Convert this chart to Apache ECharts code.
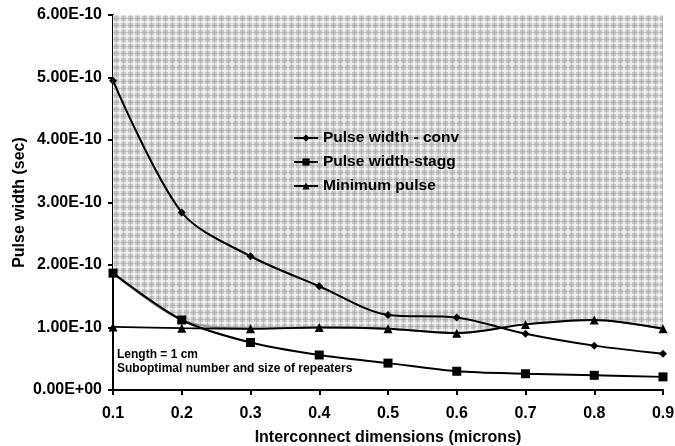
<!DOCTYPE html>
<html>
<head>
<meta charset="utf-8">
<script src="https://cdn.jsdelivr.net/npm/echarts@6/dist/echarts.min.js"></script>
<style>
html, body { margin: 0; padding: 0; background: #fff; }
#main { width: 675px; height: 446px; }
</style>
</head>
<body>
<div id="main"></div>
<script>
// 数据
var widths = [0.1, 0.2, 0.3, 0.4, 0.5, 0.6, 0.7, 0.8, 0.9];
var pulseConv = [4.95e-10, 2.84e-10, 2.14e-10, 1.66e-10, 1.20e-10, 1.16e-10, 0.90e-10, 0.71e-10, 0.58e-10];
var pulseStagg = [1.87e-10, 1.12e-10, 0.76e-10, 0.56e-10, 0.43e-10, 0.30e-10, 0.26e-10, 0.235e-10, 0.21e-10];
var minPulse = [1.01e-10, 0.99e-10, 0.98e-10, 1.00e-10, 0.98e-10, 0.91e-10, 1.05e-10, 1.12e-10, 0.98e-10];
var seriesNames = ['Pulse width - conv', 'Pulse width-stagg', 'Minimum pulse'];
var noteLines = ['Length = 1 cm', 'Suboptimal number and size of repeaters'];

// 阴影区下边界 = stagg 和 minimum 的较大值
var boundary = widths.map(function (x, i) {
    return [x, Math.max(pulseStagg[i], minPulse[i])];
});

function pairs(ys) {
    return widths.map(function (x, i) { return [x, ys[i]]; });
}

// 格子纹理
function makePattern() {
    var c = document.createElement('canvas');
    c.width = 7;
    c.height = 7;
    var ctx = c.getContext('2d');
    ctx.fillStyle = '#cacaca';
    ctx.fillRect(0, 0, 7, 7);
    ctx.fillStyle = 'rgba(255,255,255,0.6)';
    ctx.fillRect(0, 0, 2, 7);
    ctx.fillRect(0, 0, 7, 2);
    ctx.fillStyle = 'rgba(140,140,140,0.35)';
    ctx.fillRect(4, 0, 1, 7);
    ctx.fillRect(0, 4, 7, 1);
    return c;
}

function sci(v) {
    var s = v.toExponential(2).toUpperCase();
    return s.replace(/E([+-])(\d)$/, 'E$10$2');
}

var font = 'Liberation Sans';
var chart = echarts.init(document.getElementById('main'));

var lineStyle = { color: '#000', width: 2 };

option = {
    backgroundColor: '#fff',
    animation: false,
    grid: { left: 113, right: 12, top: 15, bottom: 56, outerBoundsMode: 'none' },
    legend: {
        data: seriesNames,
        orient: 'vertical',
        left: 288,
        top: 125,
        itemGap: 8,
        itemWidth: 24,
        itemHeight: 9,
        textStyle: { fontFamily: font, fontWeight: 'bold', fontSize: 15.5, color: '#000' }
    },
    xAxis: {
        type: 'value',
        min: 0.1,
        max: 0.9,
        interval: 0.1,
        name: 'Interconnect dimensions (microns)',
        nameLocation: 'middle',
        nameGap: 40,
        nameMoveOverlap: false,
        nameTextStyle: { fontFamily: font, fontWeight: 'bold', fontSize: 16, color: '#000' },
        axisLine: { lineStyle: { color: '#000', width: 2 } },
        axisTick: { length: 5, lineStyle: { color: '#000', width: 2 } },
        splitLine: { show: false },
        axisLabel: {
            fontFamily: font, fontWeight: 'bold', fontSize: 16, color: '#000', margin: 16,
            formatter: function (v) { return v.toFixed(1); }
        }
    },
    yAxis: {
        type: 'value',
        min: 0,
        max: 6e-10,
        interval: 1e-10,
        name: 'Pulse width (sec)',
        nameLocation: 'middle',
        nameGap: 85,
        nameMoveOverlap: false,
        nameTextStyle: { fontFamily: font, fontWeight: 'bold', fontSize: 16, color: '#000' },
        axisLine: { show: true, lineStyle: { color: '#000', width: 2 } },
        axisTick: { show: true, length: 5, lineStyle: { color: '#000', width: 2 } },
        splitLine: { show: false },
        axisLabel: {
            fontFamily: font, fontWeight: 'bold', fontSize: 16, color: '#000', margin: 11,
            formatter: sci
        }
    },
    series: [
        {
            name: 'shade',
            type: 'line',
            data: boundary,
            smooth: 0.3,
            symbol: 'none',
            z: 1,
            lineStyle: { color: '#999', width: 2 },
            areaStyle: {
                origin: 'end',
                opacity: 1,
                color: { image: makePattern(), repetition: 'repeat' }
            }
        },
        {
            name: seriesNames[0],
            type: 'line',
            data: pairs(pulseConv),
            smooth: 0.3,
            symbol: 'diamond',
            symbolSize: 8,
            itemStyle: { color: '#000' },
            lineStyle: lineStyle,
            z: 3
        },
        {
            name: seriesNames[1],
            type: 'line',
            data: pairs(pulseStagg),
            smooth: 0.3,
            symbol: 'rect',
            symbolSize: 9,
            itemStyle: { color: '#000' },
            lineStyle: lineStyle,
            z: 3
        },
        {
            name: seriesNames[2],
            type: 'line',
            data: pairs(minPulse),
            smooth: 0.3,
            symbol: 'triangle',
            symbolSize: 9,
            itemStyle: { color: '#000' },
            lineStyle: lineStyle,
            z: 3
        }
    ],
    graphic: [
        {
            type: 'text', left: 117, top: 349, z: 10,
            style: { text: noteLines[0], fontFamily: font, fontWeight: 'bold', fontSize: 12, fill: '#000' }
        },
        {
            type: 'text', left: 117, top: 363, z: 10,
            style: { text: noteLines[1], fontFamily: font, fontWeight: 'bold', fontSize: 12, fill: '#000' }
        }
    ]
};

chart.setOption(option);
</script>
</body>
</html>
